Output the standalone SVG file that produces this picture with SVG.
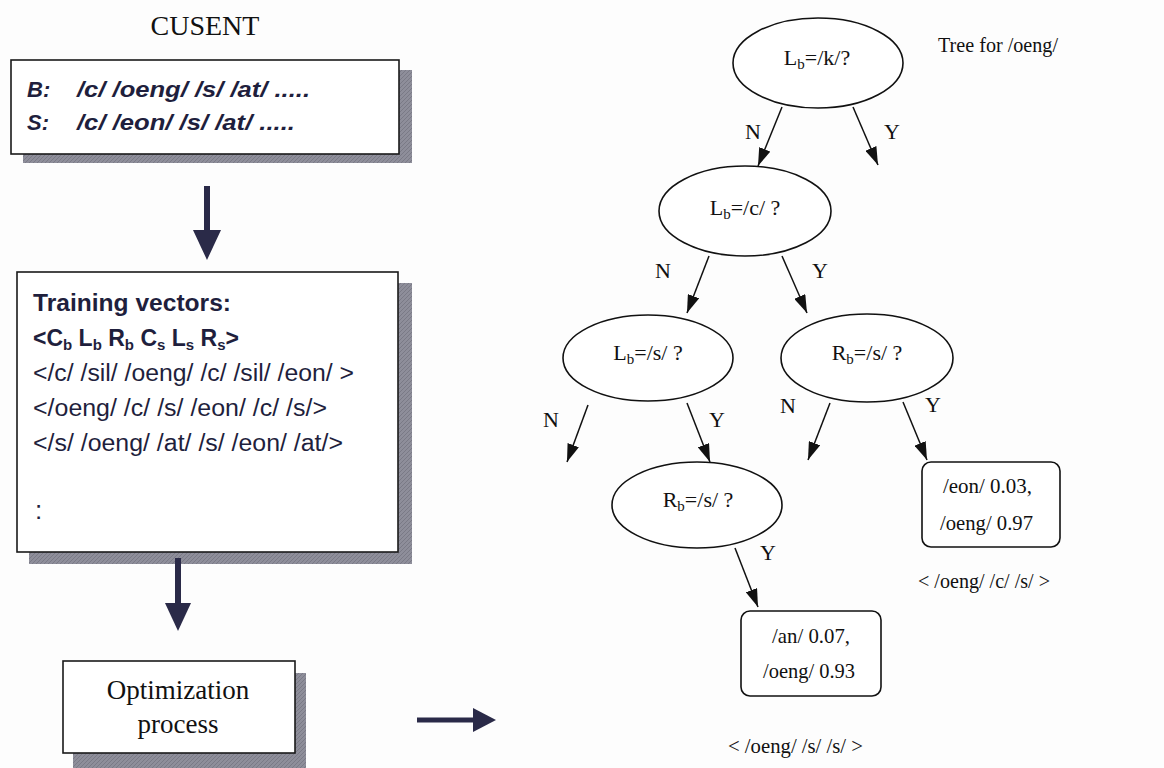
<svg xmlns="http://www.w3.org/2000/svg" width="1164" height="768" viewBox="0 0 1164 768">
  <style>
    .sans { font-family: "Liberation Sans", Arial, sans-serif; fill: #1f1f3d; }
    .serif { font-family: "Liberation Serif", "Times New Roman", serif; fill: #111; }
    .box { fill: #ffffff; stroke: #1a1a1a; stroke-width: 1.6; }
    .shadow { fill: url(#hatch); }
    .ell { fill: #ffffff; stroke: #111; stroke-width: 1.6; }
    .leaf { fill: #ffffff; stroke: #111; stroke-width: 1.6; }
    .edge { stroke: #111; stroke-width: 1.5; fill: none; marker-end: url(#tip); }
    .thick { stroke: #2a2a48; fill: none; }
    .head { fill: #2a2a48; }
  </style>
  <defs>
    <pattern id="hatch" width="4" height="4" patternUnits="userSpaceOnUse">
      <rect width="4" height="4" fill="#8e8e9a"/>
      <path d="M0,4 L4,0" stroke="#7a7a86" stroke-width="1"/>
    </pattern>
    <marker id="tip" viewBox="0 0 18 12" refX="18" refY="6" markerWidth="18" markerHeight="12" markerUnits="userSpaceOnUse" orient="auto">
      <path d="M0,0 L18,6 L0,12 z" fill="#111"/>
    </marker>
  </defs>

  <rect width="1164" height="768" fill="#fdfdfd"/>

  <!-- corpus title -->
  <g id="title">
    <text class="serif" x="205" y="35" font-size="28" text-anchor="middle">CUSENT</text>
  </g>

  <!-- phone transcription box -->
  <g id="corpus">
    <rect class="shadow" x="23" y="70" width="389" height="93"/>
    <rect class="box" x="11" y="60" width="388" height="94"/>
    <text class="sans" x="27" y="97" font-size="22" font-weight="bold" font-style="italic">B:</text>
    <text class="sans" x="77" y="97" font-size="22" font-weight="bold" font-style="italic" textLength="233" lengthAdjust="spacingAndGlyphs">/c/ /oeng/ /s/ /at/ .....</text>
    <text class="sans" x="27" y="130" font-size="22" font-weight="bold" font-style="italic">S:</text>
    <text class="sans" x="77" y="130" font-size="22" font-weight="bold" font-style="italic" textLength="218" lengthAdjust="spacingAndGlyphs">/c/ /eon/ /s/ /at/ .....</text>
  </g>

  <!-- training vectors box -->
  <g id="training">
    <rect class="shadow" x="29" y="283" width="383" height="281"/>
    <rect class="box" x="17" y="272" width="381" height="280"/>
    <text class="sans" x="33" y="311" font-size="23" font-weight="bold" textLength="198" lengthAdjust="spacingAndGlyphs">Training vectors:</text>
    <text class="sans" x="33" y="346" font-size="23" font-weight="bold">&lt;C<tspan font-size="15" dy="4">b</tspan><tspan dy="-4"> L</tspan><tspan font-size="15" dy="4">b</tspan><tspan dy="-4"> R</tspan><tspan font-size="15" dy="4">b</tspan><tspan dy="-4"> C</tspan><tspan font-size="15" dy="4">s</tspan><tspan dy="-4"> L</tspan><tspan font-size="15" dy="4">s</tspan><tspan dy="-4"> R</tspan><tspan font-size="15" dy="4">s</tspan><tspan dy="-4">&gt;</tspan></text>
    <text class="sans" x="33" y="381" font-size="23" textLength="321" lengthAdjust="spacingAndGlyphs">&lt;/c/ /sil/ /oeng/ /c/ /sil/ /eon/ &gt;</text>
    <text class="sans" x="33" y="416" font-size="23" textLength="294" lengthAdjust="spacingAndGlyphs">&lt;/oeng/ /c/ /s/ /eon/ /c/ /s/&gt;</text>
    <text class="sans" x="33" y="451" font-size="23" textLength="310" lengthAdjust="spacingAndGlyphs">&lt;/s/ /oeng/ /at/ /s/ /eon/ /at/&gt;</text>
    <text class="sans" x="35" y="519" font-size="26">:</text>
  </g>

  <!-- optimization box -->
  <g id="optimization">
    <rect class="shadow" x="73" y="673" width="233" height="95"/>
    <rect class="box" x="63" y="661" width="232" height="92"/>
    <text class="serif" x="178" y="699" font-size="27" text-anchor="middle">Optimization</text>
    <text class="serif" x="178" y="733" font-size="27" text-anchor="middle">process</text>
  </g>

  <!-- tree caption -->
  <g id="tree-caption">
    <text class="serif" x="938" y="52" font-size="22" textLength="120" lengthAdjust="spacingAndGlyphs">Tree for /oeng/</text>
  </g>

  <!-- question nodes -->
  <g id="q-root">
    <ellipse class="ell" cx="818" cy="63" rx="85" ry="45"/>
    <text class="serif" x="817" y="65" font-size="22" text-anchor="middle">L<tspan font-size="15" dy="4">b</tspan><tspan dy="-4">=/k/?</tspan></text>
  </g>
  <g id="q-lb-c">
    <ellipse class="ell" cx="745" cy="211" rx="86" ry="45"/>
    <text class="serif" x="745" y="215" font-size="22" text-anchor="middle">L<tspan font-size="15" dy="4">b</tspan><tspan dy="-4">=/c/ ?</tspan></text>
  </g>
  <g id="q-lb-s">
    <ellipse class="ell" cx="648" cy="358" rx="85" ry="43"/>
    <text class="serif" x="648" y="360" font-size="22" text-anchor="middle">L<tspan font-size="15" dy="4">b</tspan><tspan dy="-4">=/s/ ?</tspan></text>
  </g>
  <g id="q-rb-s-right">
    <ellipse class="ell" cx="867" cy="358" rx="86" ry="44"/>
    <text class="serif" x="867" y="360" font-size="22" text-anchor="middle">R<tspan font-size="15" dy="4">b</tspan><tspan dy="-4">=/s/ ?</tspan></text>
  </g>
  <g id="q-rb-s-low">
    <ellipse class="ell" cx="697" cy="505" rx="85" ry="43"/>
    <text class="serif" x="698" y="507" font-size="22" text-anchor="middle">R<tspan font-size="15" dy="4">b</tspan><tspan dy="-4">=/s/ ?</tspan></text>
  </g>

  <!-- leaf nodes -->
  <g id="leaf-c-s">
    <rect class="leaf" x="922" y="462" width="138" height="85" rx="9"/>
    <text class="serif" x="943" y="493" font-size="22" textLength="89" lengthAdjust="spacingAndGlyphs">/eon/ 0.03,</text>
    <text class="serif" x="940" y="530" font-size="22" textLength="93" lengthAdjust="spacingAndGlyphs">/oeng/ 0.97</text>
    <text class="serif" x="918" y="588" font-size="22" textLength="132" lengthAdjust="spacingAndGlyphs">&lt; /oeng/ /c/ /s/ &gt;</text>
  </g>
  <g id="leaf-s-s">
    <rect class="leaf" x="741" y="611" width="140" height="85" rx="9"/>
    <text class="serif" x="772" y="643" font-size="22" textLength="78" lengthAdjust="spacingAndGlyphs">/an/ 0.07,</text>
    <text class="serif" x="763" y="678" font-size="22" textLength="92" lengthAdjust="spacingAndGlyphs">/oeng/ 0.93</text>
    <text class="serif" x="728" y="753" font-size="22" textLength="135" lengthAdjust="spacingAndGlyphs">&lt; /oeng/ /s/ /s/ &gt;</text>
  </g>

  <!-- connectors -->
  <g id="connectors">
    <line class="thick" x1="207" y1="186" x2="207" y2="232" stroke-width="6"/>
    <polygon class="head" points="193,230 221,230 207,260"/>
    <line class="thick" x1="178" y1="558" x2="178" y2="605" stroke-width="6"/>
    <polygon class="head" points="165,603 191,603 178,631"/>
    <line class="thick" x1="417" y1="720" x2="475" y2="720" stroke-width="5"/>
    <polygon class="head" points="473,708 473,732 496,720"/>

    <line class="edge" x1="782" y1="107" x2="758" y2="166"/>
    <line class="edge" x1="853" y1="107" x2="878" y2="165"/>
    <line class="edge" x1="709" y1="256" x2="687" y2="313"/>
    <line class="edge" x1="782" y1="256" x2="807" y2="313"/>
    <line class="edge" x1="588" y1="405" x2="567" y2="462"/>
    <line class="edge" x1="687" y1="403" x2="710" y2="462"/>
    <line class="edge" x1="830" y1="403" x2="808" y2="460"/>
    <line class="edge" x1="903" y1="402" x2="927" y2="460"/>
    <line class="edge" x1="735" y1="548" x2="758" y2="607"/>

    <text class="serif" x="753" y="139" font-size="22" text-anchor="middle">N</text>
    <text class="serif" x="892" y="139" font-size="22" text-anchor="middle">Y</text>
    <text class="serif" x="663" y="278" font-size="22" text-anchor="middle">N</text>
    <text class="serif" x="820" y="278" font-size="22" text-anchor="middle">Y</text>
    <text class="serif" x="551" y="427" font-size="22" text-anchor="middle">N</text>
    <text class="serif" x="717" y="427" font-size="22" text-anchor="middle">Y</text>
    <text class="serif" x="788" y="413" font-size="22" text-anchor="middle">N</text>
    <text class="serif" x="933" y="412" font-size="22" text-anchor="middle">Y</text>
    <text class="serif" x="768" y="560" font-size="22" text-anchor="middle">Y</text>
  </g>
</svg>
